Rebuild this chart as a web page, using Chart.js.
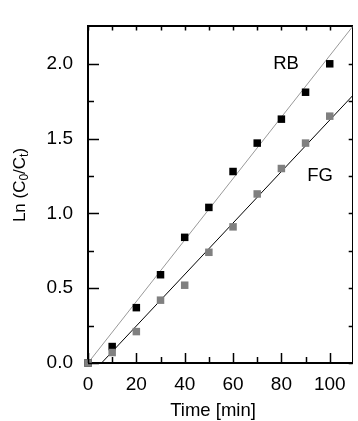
<!DOCTYPE html>
<html>
<head>
<meta charset="utf-8">
<script src="https://cdn.jsdelivr.net/npm/chart.js@4.4.1/dist/chart.umd.min.js"></script>
<style>
  html, body { margin: 0; padding: 0; background: #fff; }
  #wrap { width: 358px; height: 421px; position: relative; }
</style>
</head>
<body>
<div id="wrap"><canvas id="c"></canvas></div>
<script>
// 数据
const timeMin = [0, 10, 20, 30, 40, 50, 60, 70, 80, 90, 100];
const lnRB = [0, 0.11, 0.37, 0.59, 0.84, 1.04, 1.28, 1.47, 1.63, 1.81, 2.00];
const lnFG = [0, 0.07, 0.21, 0.42, 0.52, 0.74, 0.91, 1.13, 1.30, 1.47, 1.65];
// 拟合直线端点
const fitRB = [{ x: 0, y: 0 }, { x: 110, y: 2.26 }];
const fitFG = [{ x: 5.6, y: 0 }, { x: 110, y: 1.796 }];
const yTicks = [0, 0.5, 1.0, 1.5, 2.0];

const FONT = 'Liberation Sans, Arial, sans-serif';

const toXY = (ys) => timeMin.map((t, i) => ({ x: t, y: ys[i] }));

// 内向刻度、标题、文字标注
const decor = {
    id: 'decor',
    afterDatasetsDraw(chart) {
        const { ctx, chartArea: a, scales: { x, y } } = chart;
        ctx.save();
        ctx.strokeStyle = '#000';
        ctx.lineWidth = 1.5;
        ctx.beginPath();
        for (let v = 0; v <= 100; v += 10) {
            const px = Math.round(x.getPixelForValue(v)) + 0.5;
            const len = v % 20 === 0 ? 10 : 6;
            ctx.moveTo(px, a.bottom);
            ctx.lineTo(px, a.bottom - len);
            ctx.moveTo(px, a.top);
            ctx.lineTo(px, a.top + 4);
        }
        for (let v = 0; v <= 2.0001; v += 0.25) {
            const py = Math.round(y.getPixelForValue(v)) + 0.5;
            const major = Math.abs(v * 2 - Math.round(v * 2)) < 1e-6;
            ctx.moveTo(a.left, py);
            ctx.lineTo(a.left + (major ? 11 : 6), py);
            ctx.moveTo(a.right, py);
            ctx.lineTo(a.right - 4, py);
        }
        ctx.stroke();

        ctx.fillStyle = '#000';
        ctx.font = '18.5px ' + FONT;
        ctx.textAlign = 'center';
        ctx.textBaseline = 'middle';
        ctx.fillText('RB', 286, 64);
        ctx.fillText('FG', 320, 176);

        ctx.fillText('Time [min]', 213, 411);

        // 纵轴标题（含下标）
        ctx.translate(20, 185);
        ctx.rotate(-Math.PI / 2);
        const parts = [['Ln (C', 17, 0], ['0', 12, 5], ['/C', 17, 0], ['t', 12, 5], [')', 17, 0]];
        let total = 0;
        parts.forEach(p => { ctx.font = p[1] + 'px ' + FONT; total += ctx.measureText(p[0]).width; });
        let cx = -total / 2;
        ctx.textAlign = 'left';
        parts.forEach(p => {
            ctx.font = p[1] + 'px ' + FONT;
            ctx.fillText(p[0], cx, p[2]);
            cx += ctx.measureText(p[0]).width;
        });
        ctx.restore();
    }
};

new Chart(document.getElementById('c'), {
    type: 'scatter',
    data: {
        datasets: [
            {
                label: 'RB fit', type: 'line', data: fitRB,
                borderColor: '#999999', borderWidth: 1, pointRadius: 0, fill: false, order: 3
            },
            {
                label: 'FG fit', type: 'line', data: fitFG,
                borderColor: '#000000', borderWidth: 1, pointRadius: 0, fill: false, order: 2
            },
            {
                label: 'RB', data: toXY(lnRB), pointStyle: 'rect', pointRadius: 5.3, clip: false,
                backgroundColor: '#000000', borderColor: '#000000', borderWidth: 0, order: 1
            },
            {
                label: 'FG', data: toXY(lnFG), pointStyle: 'rect', pointRadius: 5.3, clip: false,
                backgroundColor: '#808080', borderColor: '#808080', borderWidth: 0, order: 0
            }
        ]
    },
    options: {
        responsive: true,
        maintainAspectRatio: false,
        animation: false,
        layout: { padding: { left: 0, top: 13, right: 2, bottom: 0 } },
        plugins: { legend: { display: false }, tooltip: { enabled: false } },
        scales: {
            x: {
                type: 'linear', min: 0, max: 109.5,
                afterFit: (s) => { s.height = 58; },
                grid: { display: false, drawTicks: false },
                border: { display: true, color: '#000', width: 2 },
                ticks: {
                    includeBounds: false, stepSize: 20, padding: 10, color: '#000',
                    font: { family: FONT, size: 19 }, maxRotation: 0
                }
            },
            y: {
                type: 'linear', min: 0, max: 2.25,
                afterFit: (s) => { s.width = 88; },
                grid: { display: false, drawTicks: false },
                border: { display: true, color: '#000', width: 2 },
                ticks: {
                    includeBounds: false, stepSize: 0.5, padding: 15, color: '#000',
                    font: { family: FONT, size: 19 },
                    callback: (v) => yTicks.includes(v) ? v.toFixed(1) : ''
                }
            },
            x2: {
                type: 'linear', position: 'top', min: 0, max: 109.5,
                afterFit: (s) => { s.height = 0; },
                grid: { display: false, drawTicks: false },
                border: { display: true, color: '#000', width: 2 },
                ticks: { display: false }
            },
            y2: {
                type: 'linear', position: 'right', min: 0, max: 2.25,
                afterFit: (s) => { s.width = 0; },
                grid: { display: false, drawTicks: false },
                border: { display: true, color: '#000', width: 1 },
                ticks: { display: false }
            }
        }
    },
    plugins: [decor]
});
</script>
</body>
</html>
